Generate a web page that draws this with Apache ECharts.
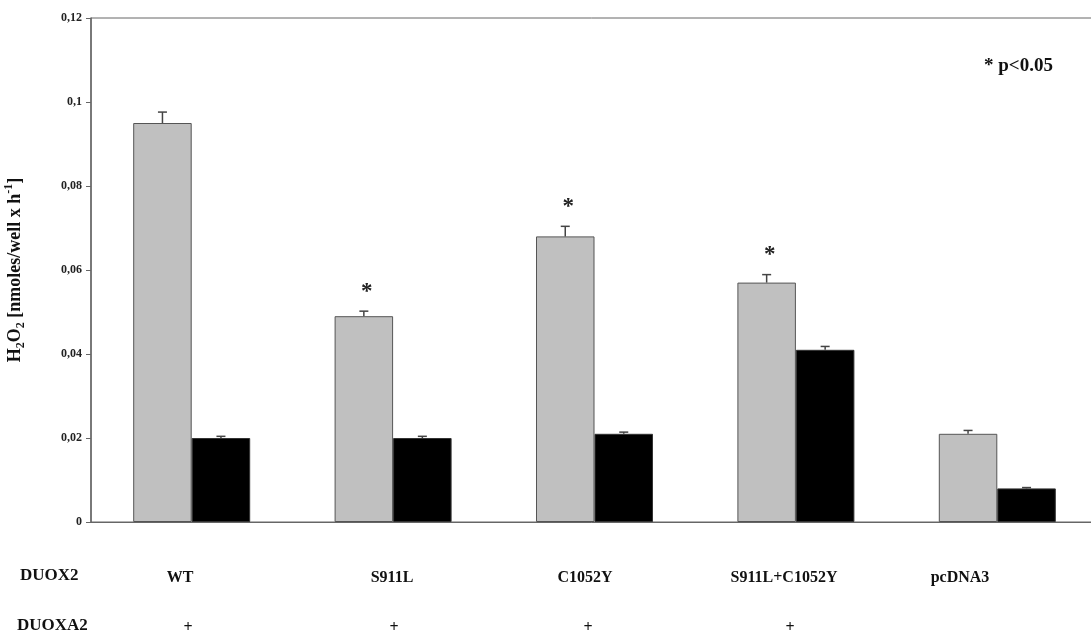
<!DOCTYPE html>
<html>
<head>
<meta charset="utf-8">
<script src="https://cdn.jsdelivr.net/npm/echarts@6/dist/echarts.min.js"></script>
<style>
html,body{margin:0;padding:0;background:#fff;}
#c{width:1091px;height:637px;}
</style>
</head>
<body>
<div id="c"></div>
<script>
// ---- data ----
var categories = ['WT', 'S911L', 'C1052Y', 'S911L+C1052Y', 'pcDNA3'];
var duoxa2 = ['+', '+', '+', '+', ''];
var grayValues = [0.095, 0.049, 0.068, 0.057, 0.021];
var grayErrors = [0.0026, 0.0012, 0.0024, 0.0019, 0.0008];
var blackValues = [0.020, 0.020, 0.021, 0.041, 0.008];
var blackErrors = [0.0004, 0.0004, 0.0004, 0.0008, 0.0002];
var grayStars = ['', '*', '*', '*', ''];
var yTicks = [0, 0.02, 0.04, 0.06, 0.08, 0.1, 0.12];
var yTickLabels = ['0', '0,02', '0,04', '0,06', '0,08', '0,1', '0,12'];

var FONT = '"Liberation Serif", "DejaVu Serif", serif';
var BAR_W = 58.5;

var chart = echarts.init(document.getElementById('c'), null, {renderer: 'canvas'});

function errSeries(values, errors, stars, side) {
  var data = values.map(function (v, i) { return [i, v, errors[i], stars ? stars[i] : '']; });
  return {
    type: 'custom',
    data: data,
    z: 5,
    renderItem: function (params, api) {
      var idx = api.value(0);
      var v = api.value(1);
      var e = api.value(2);
      var p0 = api.coord([idx, v]);
      var p1 = api.coord([idx, v + e]);
      var x = p0[0] + side * BAR_W / 2;
      var children = [
        {type: 'line', shape: {x1: x, y1: p0[1], x2: x, y2: p1[1]}, style: {stroke: '#444', lineWidth: 1.5}},
        {type: 'line', shape: {x1: x - 4.5, y1: p1[1], x2: x + 4.5, y2: p1[1]}, style: {stroke: '#444', lineWidth: 1.5}}
      ];
      var s = data[params.dataIndex][3];
      if (s) {
        children.push({type: 'text', x: x + 3, y: p1[1] - 8,
          style: {text: s, font: 'bold 23px ' + FONT, fill: '#222', align: 'center', verticalAlign: 'bottom'}});
      }
      return {type: 'group', children: children};
    }
  };
}

var graphics = [];
// row labels
graphics.push({type: 'text', left: 20, top: 567, style: {text: 'DUOX2', font: 'bold 17px ' + FONT, fill: '#111'}});
graphics.push({type: 'text', left: 17, top: 617, style: {text: 'DUOXA2', font: 'bold 17px ' + FONT, fill: '#111'}});
var catLabelX = [180, 392, 585, 784, 960];
var plusX = [188, 394, 588, 790, 990];
categories.forEach(function (c, i) {
  graphics.push({type: 'text', x: catLabelX[i], y: 578,
    style: {text: c, font: 'bold 16px ' + FONT, fill: '#111', align: 'center', verticalAlign: 'middle'}});
  if (duoxa2[i]) {
    graphics.push({type: 'text', x: plusX[i], y: 628,
      style: {text: duoxa2[i], font: 'bold 16px ' + FONT, fill: '#111', align: 'center', verticalAlign: 'middle'}});
  }
});
graphics.push({type: 'text', left: 984, top: 57, style: {text: '* p<0.05', font: 'bold 19px ' + FONT, fill: '#111'}});

var option = {
  backgroundColor: '#fff',
  animation: false,
  grid: {left: 91, top: 18, right: -7, bottom: 115, containLabel: false, outerBoundsMode: 'none',
    show: true, borderColor: '#666', borderWidth: 1, backgroundColor: 'transparent'},
  xAxis: {
    type: 'category',
    data: categories,
    axisLine: {show: true, lineStyle: {color: '#666', width: 1}},
    axisTick: {show: false},
    axisLabel: {show: false},
    splitLine: {show: false}
  },
  yAxis: {
    type: 'value',
    min: yTicks[0],
    max: yTicks[yTicks.length - 1],
    interval: 0.02,
    axisLine: {show: true, lineStyle: {color: '#666', width: 1.5}},
    axisTick: {show: true, inside: false, length: 5, lineStyle: {color: '#666'}},
    splitLine: {show: false},
    axisLabel: {
      margin: 9,
      fontFamily: FONT, fontWeight: 'bold', fontSize: 12, color: '#222',
      formatter: function (v) {
        for (var i = 0; i < yTicks.length; i++) {
          if (Math.abs(yTicks[i] - v) < 1e-9) return yTickLabels[i];
        }
        return '';
      }
    },
    name: '{b|H}{s|2}{b|O}{s|2}{b| [nmoles/well x h}{p|-1}{b|]}',
    nameLocation: 'middle',
    nameGap: 64,
    nameRotate: 90,
    nameTextStyle: {
      rich: {
        b: {fontFamily: FONT, fontWeight: 'bold', fontSize: 18, color: '#111', lineHeight: 24, verticalAlign: 'middle'},
        s: {fontFamily: FONT, fontWeight: 'bold', fontSize: 12, color: '#111', lineHeight: 24, verticalAlign: 'bottom'},
        p: {fontFamily: FONT, fontWeight: 'bold', fontSize: 12, color: '#111', lineHeight: 24, verticalAlign: 'top'}
      }
    }
  },
  series: [
    {type: 'bar', data: grayValues, barWidth: BAR_W, barGap: '0%',
      itemStyle: {color: '#c0c0c0', borderColor: '#555', borderWidth: 1}},
    {type: 'bar', data: blackValues, barWidth: BAR_W, barGap: '0%',
      itemStyle: {color: '#000', borderColor: '#333', borderWidth: 1}},
    errSeries(grayValues, grayErrors, grayStars, -1),
    errSeries(blackValues, blackErrors, null, 1)
  ],
  graphic: graphics
};
chart.setOption(option);
</script>
</body>
</html>
